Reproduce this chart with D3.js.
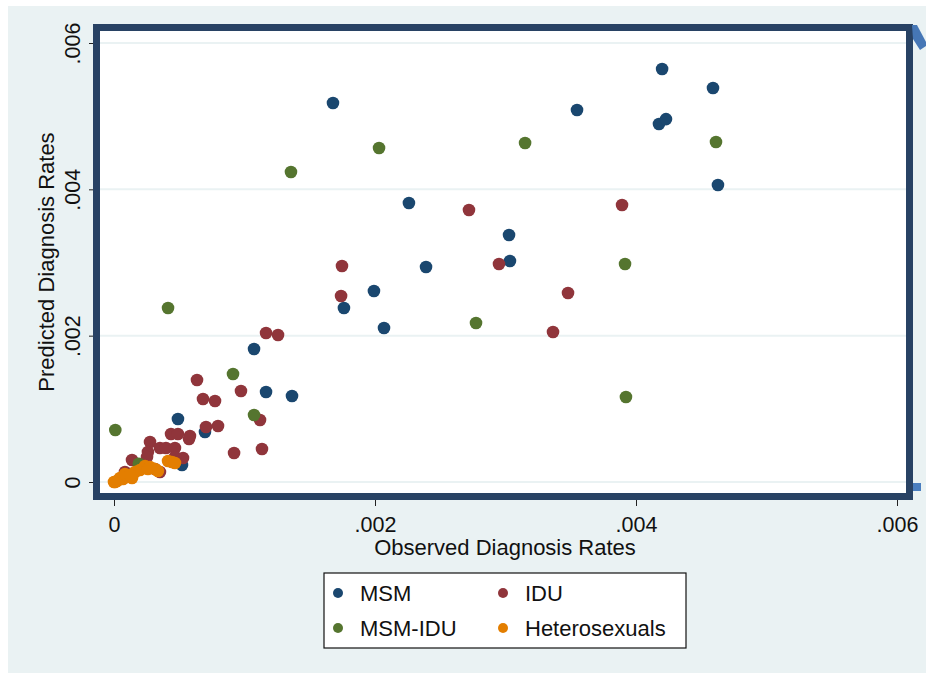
<!DOCTYPE html>
<html>
<head>
<meta charset="utf-8">
<script src="https://cdn.jsdelivr.net/npm/d3@7"></script>
<style>
  html, body { margin: 0; padding: 0; background: #ffffff; }
  svg { display: block; font-family: Arial, "Liberation Sans", Helvetica, sans-serif; }
</style>
</head>
<body>
<svg id="chart" width="926" height="678"></svg>
<script>
// Observed vs predicted diagnosis rates, one array of [observed, predicted] per group
const msm = [
  [0.001678, 0.00518], [0.003548, 0.005084], [0.00420, 0.005644], [0.00459, 0.005385],
  [0.004176, 0.004893], [0.00423, 0.00496], [0.004628, 0.004059], [0.00226, 0.003813],
  [0.003027, 0.003376], [0.003034, 0.00302], [0.002391, 0.002938], [0.001992, 0.00261],
  [0.001762, 0.002378], [0.002069, 0.002105], [0.001073, 0.001818], [0.001165, 0.00123],
  [0.001364, 0.001175], [0.00049, 0.000861], [0.000697, 0.000683], [0.000521, 0.000232]
];
const idu = [
  [0.003893, 0.003786], [0.00272, 0.003717], [0.00295, 0.002979], [0.001747, 0.002952],
  [0.00174, 0.002542], [0.003479, 0.002583], [0.003364, 0.00205], [0.001165, 0.002036],
  [0.001257, 0.002009], [0.000636, 0.001394], [0.000682, 0.001134], [0.000774, 0.001107],
  [0.000973, 0.001244], [0.001119, 0.000847], [0.00092, 0.000396], [0.001134, 0.000451],
  [0.000705, 0.000752], [0.000797, 0.000765], [0.000437, 0.000656], [0.00049, 0.000656],
  [0.000582, 0.000629], [0.000575, 0.000588], [0.000276, 0.000547], [0.00026, 0.00041],
  [0.000352, 0.000465], [0.000398, 0.000465], [0.000467, 0.000465], [0.000529, 0.000328],
  [0.000467, 0.000342], [0.000138, 0.000301], [0.000253, 0.000342], [0.000352, 0.000137],
  [0.000084, 0.000137], [0.000314, 0.000178]
];
const msmIdu = [
  [0.002031, 0.004565], [0.001356, 0.004237], [0.00315, 0.004633], [0.004613, 0.004647],
  [0.003916, 0.002979], [0.002774, 0.002173], [0.000414, 0.002378], [0.003923, 0.001162],
  [0.00001, 0.000711], [0.000912, 0.001476], [0.001073, 0.000916], [0.00019, 0.00025]
];
const hetero = [
  [0.000008, 0.0], [0.000023, 0.000014], [0.000046, 0.000055], [0.000069, 0.000041],
  [0.0001, 0.000082], [0.000138, 0.000055], [0.000161, 0.000137], [0.000199, 0.000164],
  [0.000238, 0.000219], [0.00026, 0.000178], [0.000314, 0.000178], [0.000337, 0.00015],
  [0.000414, 0.000287], [0.000444, 0.000273], [0.000467, 0.00026], [0.0, 0.0],
  [0.000084, 0.000109], [0.000123, 0.000096], [0.000276, 0.000205]
];

const groups = ["MSM", "IDU", "MSM-IDU", "Heterosexuals"];
const groupColors = ["#1a476f", "#90353b", "#55752f", "#e37e00"];
const tickValues = [0, 0.002, 0.004, 0.006];
const tickLabels = ["0", ".002", ".004", ".006"];
const xTitle = "Observed Diagnosis Rates";
const yTitle = "Predicted Diagnosis Rates";

const svg = d3.select("#chart");

// graph background
svg.append("rect").attr("x", 8).attr("y", 6).attr("width", 918).attr("height", 667)
  .attr("fill", "#eaf2f3");

// plot region
const frame = { left: 93, top: 24, right: 913, bottom: 500, thick: 7 };
svg.append("rect")
  .attr("x", frame.left + frame.thick / 2).attr("y", frame.top + frame.thick / 2)
  .attr("width", frame.right - frame.left - frame.thick)
  .attr("height", frame.bottom - frame.top - frame.thick)
  .attr("fill", "#ffffff");

const x = d3.scaleLinear().domain([0, 0.006]).range([114, 897]);
const y = d3.scaleLinear().domain([0, 0.006]).range([482, 43]);

// horizontal grid
svg.append("g").selectAll("line").data(tickValues).join("line")
  .attr("x1", frame.left + frame.thick).attr("x2", frame.right - frame.thick)
  .attr("y1", d => y(d)).attr("y2", d => y(d))
  .attr("stroke", "#eaf2f3").attr("stroke-width", 2);

// points, drawn group by group
const series = [msm, idu, msmIdu, hetero];
series.forEach((pts, i) => {
  svg.append("g").selectAll("circle").data(pts).join("circle")
    .attr("cx", d => x(d[0])).attr("cy", d => y(d[1]))
    .attr("r", 6.3).attr("fill", groupColors[i]);
});

// plot region outline
svg.append("rect")
  .attr("x", frame.left + frame.thick / 2).attr("y", frame.top + frame.thick / 2)
  .attr("width", frame.right - frame.left - frame.thick)
  .attr("height", frame.bottom - frame.top - frame.thick)
  .attr("fill", "none").attr("stroke", "#284264").attr("stroke-width", frame.thick);

// corner accents on the right edge
svg.append("polygon")
  .attr("points", "912,25 917,25 926,42 926,46 920,50 913,39")
  .attr("fill", "#4677b6");
svg.append("rect").attr("x", 913).attr("y", 483).attr("width", 8).attr("height", 8)
  .attr("fill", "#4a7ebf");

// axes
const fmt = d => tickLabels[tickValues.indexOf(d)];
const yAxis = svg.append("g").attr("transform", `translate(${frame.left},0)`)
  .call(d3.axisLeft(y).tickValues(tickValues).tickFormat(fmt).tickSize(4).tickPadding(0));
yAxis.select(".domain").remove();
yAxis.selectAll(".tick line").attr("stroke", "#222");
yAxis.selectAll(".tick text")
  .attr("font-size", 21.5).attr("fill", "#111")
  .attr("x", null).attr("dy", null)
  .attr("text-anchor", "middle")
  .attr("transform", "translate(-13,0) rotate(-90)");

const xAxis = svg.append("g").attr("transform", `translate(0,${frame.bottom})`)
  .call(d3.axisBottom(x).tickValues(tickValues).tickFormat(fmt).tickSize(6).tickPadding(0));
xAxis.select(".domain").remove();
xAxis.selectAll(".tick line").attr("stroke", "#222");
xAxis.selectAll(".tick text")
  .attr("font-size", 21.5).attr("fill", "#111")
  .attr("y", 32).attr("dy", null);

// axis titles
svg.append("text").attr("x", 505).attr("y", 555).attr("text-anchor", "middle")
  .attr("font-size", 22).attr("fill", "#111").text(xTitle);
svg.append("text").attr("transform", "translate(54,262) rotate(-90)")
  .attr("text-anchor", "middle").attr("font-size", 22).attr("fill", "#111").text(yTitle);

// legend
const legend = svg.append("g");
legend.append("rect").attr("x", 324).attr("y", 573).attr("width", 362).attr("height", 75)
  .attr("fill", "#ffffff").attr("stroke", "#111").attr("stroke-width", 1.2);
const legendPos = [[338, 593], [503, 593], [338, 628], [503, 628]];
const legendOrder = [0, 1, 2, 3];
legendOrder.forEach((gi, k) => {
  const [lx, ly] = legendPos[k];
  legend.append("circle").attr("cx", lx).attr("cy", ly).attr("r", 5).attr("fill", groupColors[gi]);
  legend.append("text").attr("x", lx + 22).attr("y", ly + 8)
    .attr("font-size", 22).attr("fill", "#111").text(groups[gi]);
});
</script>
</body>
</html>
